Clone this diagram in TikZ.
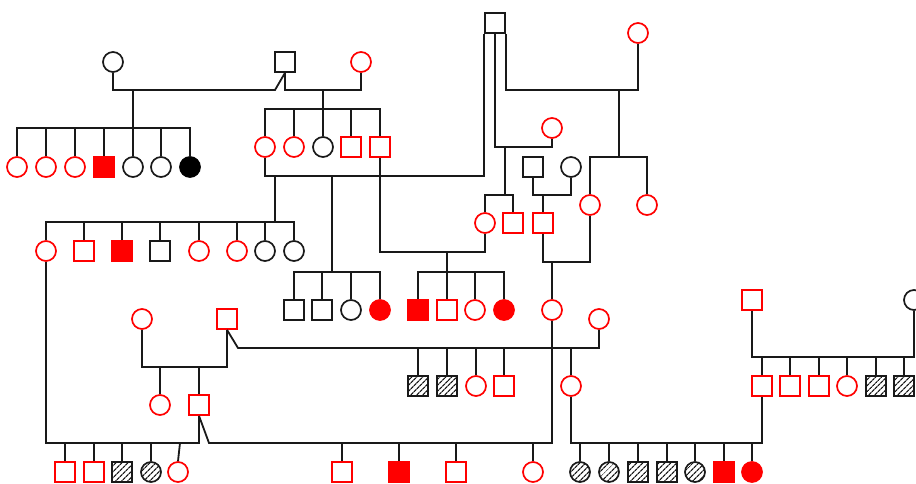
\documentclass[tikz,border=0pt]{standalone}
\usetikzlibrary{patterns.meta}
\begin{document}
\begin{tikzpicture}[x=1pt,y=-1pt,
    rel/.style={draw=black!90,line width=1.8pt},
    male/.style={rectangle},
    female/.style={circle},
    unaff/.style={draw=red},
    aff/.style={draw=red,fill=red},
    plain/.style={draw=black!90},
    blackaff/.style={draw=black,fill=black},
    carrier/.style={draw=black!90,pattern={Lines[angle=45,distance=4pt,line width=1.2pt]},pattern color=black!90}]
\tikzset{every node/.style={minimum size=20pt,inner sep=0pt,line width=1.7pt}}
\useasboundingbox (0,0) rectangle (916,484);

% first generation
\node[female,plain] (gmA) at (113,62) {};
\node[male,plain] (gpA) at (285,62) {};
\node[female,unaff] (gmB) at (361,62) {};
\node[male,plain] (gp) at (495,23) {};
\node[female,unaff] (gmC) at (638,33) {};
\node[female,unaff] (gmD) at (552,128) {};
\node[male,plain] (pE) at (533,167) {};
\node[female,plain] (mE) at (571,167) {};

% second generation
\node[female,unaff] (a1) at (17,167) {};
\node[female,unaff] (a2) at (46,167) {};
\node[female,unaff] (a3) at (75,167) {};
\node[male,aff] (a4) at (104,167) {};
\node[female,plain] (a5) at (133,167) {};
\node[female,plain] (a6) at (161,167) {};
\node[female,blackaff] (a7) at (190,167) {};

\node[female,unaff] (b1) at (265,147) {};
\node[female,unaff] (b2) at (294,147) {};
\node[female,plain] (b3) at (323,147) {};
\node[male,unaff] (b4) at (351,147) {};
\node[male,unaff] (b5) at (380,147) {};

\node[female,unaff] (e1) at (485,223) {};
\node[male,unaff] (e2) at (513,223) {};
\node[male,unaff] (e3) at (543,223) {};
\node[female,unaff] (f1) at (590,205) {};
\node[female,unaff] (f2) at (647,205) {};

% third generation
\node[female,unaff] (c1) at (46,251) {};
\node[male,unaff] (c2) at (84,251) {};
\node[male,aff] (c3) at (122,251) {};
\node[male,plain] (c4) at (160,251) {};
\node[female,unaff] (c5) at (199,251) {};
\node[female,unaff] (c6) at (237,251) {};
\node[female,plain] (c7) at (265,251) {};
\node[female,plain] (c8) at (294,251) {};

\node[male,plain] (d1) at (294,310) {};
\node[male,plain] (d2) at (322,310) {};
\node[female,plain] (d3) at (351,310) {};
\node[female,aff] (d4) at (380,310) {};

\node[male,aff] (h1) at (418,310) {};
\node[male,unaff] (h2) at (447,310) {};
\node[female,unaff] (h3) at (475,310) {};
\node[female,aff] (h4) at (504,310) {};

\node[female,unaff] (g1) at (552,310) {};

\node[female,unaff] (p1) at (142,319) {};
\node[male,unaff] (p2) at (227,319) {};
\node[female,unaff] (r1) at (599,319) {};
\node[male,unaff] (x1) at (752,300) {};
\node[female,plain] (x2) at (914,300) {};

% fourth generation
\node[female,unaff] (q1) at (160,405) {};
\node[male,unaff] (q2) at (199,405) {};

\node[male,carrier] (s1) at (418,386) {};
\node[male,carrier] (s2) at (447,386) {};
\node[female,unaff] (s3) at (476,386) {};
\node[male,unaff] (s4) at (504,386) {};
\node[female,unaff] (s5) at (571,386) {};

\node[male,unaff] (v1) at (762,386) {};
\node[male,unaff] (v2) at (790,386) {};
\node[male,unaff] (v3) at (819,386) {};
\node[female,unaff] (v4) at (847,386) {};
\node[male,carrier] (v5) at (876,386) {};
\node[male,carrier] (v6) at (904,386) {};

% fifth generation
\node[male,unaff] (t1) at (65,472) {};
\node[male,unaff] (t2) at (94,472) {};
\node[male,carrier] (t3) at (122,472) {};
\node[female,carrier] (t4) at (151,472) {};
\node[female,unaff] (t5) at (178,472) {};

\node[male,unaff] (u1) at (342,472) {};
\node[male,aff] (u2) at (399,472) {};
\node[male,unaff] (u3) at (456,472) {};
\node[female,unaff] (u4) at (533,472) {};

\node[female,carrier] (w1) at (580,472) {};
\node[female,carrier] (w2) at (609,472) {};
\node[male,carrier] (w3) at (638,472) {};
\node[male,carrier] (w4) at (667,472) {};
\node[female,carrier] (w5) at (695,472) {};
\node[male,aff] (w6) at (724,472) {};
\node[female,aff] (w7) at (752,472) {};

% marriage and sibling lines
\coordinate (kA) at (275,90);
\coordinate (jA) at (133,90);
\coordinate (sA) at (133,128);
\draw[rel] (gmA.south) |- (kA) -- (gpA.south);
\draw[rel] (jA) -- (a5.north);
\draw[rel] (a1.north) |- (sA) -| (a7.north);
\foreach \c in {a2,a3,a4,a6} \draw[rel] (\c.north) -- (\c.north |- sA);

\coordinate (jB) at (323,90);
\coordinate (sB) at (323,109);
\draw[rel] (gpA.south) -- (gpA.south |- kA) -| (gmB.south);
\draw[rel] (jB) -- (b3.north);
\draw[rel] (b1.north) |- (sB) -| (b5.north);
\foreach \c in {b2,b4} \draw[rel] (\c.north) -- (\c.north |- sB);

\coordinate (m1) at (275,176);
\coordinate (m1b) at (332,176);
\coordinate (sC) at (275,222);
\coordinate (sD) at (332,272);
\draw[rel] (b1.south) |- (m1) -| (gp.south west);
\draw[rel] (m1) -- (sC);
\draw[rel] (c1.north) |- (sC) -| (c8.north);
\foreach \c in {c2,c3,c4,c5,c6,c7} \draw[rel] (\c.north) -- (\c.north |- sC);
\draw[rel] (m1b) -- (sD);
\draw[rel] (d1.north) |- (sD) -| (d4.north);
\foreach \c in {d2,d3} \draw[rel] (\c.north) -- (\c.north |- sD);

\coordinate (m2) at (505,147);
\coordinate (sE) at (505,195);
\draw[rel] (gp.south) |- (m2) -| (gmD.south);
\draw[rel] (m2) -- (sE);
\draw[rel] (e1.north) |- (sE) -| (e2.north);

\coordinate (m3) at (619,90);
\coordinate (sF) at (619,157);
\draw[rel] (gp.south east) |- (m3) -| (gmC.south);
\draw[rel] (m3) -- (sF);
\draw[rel] (f1.north) |- (sF) -| (f2.north);

\coordinate (jE) at (543,195);
\draw[rel] (pE.south) |- (jE) -| (mE.south);
\draw[rel] (jE) -- (e3.north);

\coordinate (jG) at (552,262);
\draw[rel] (e3.south) |- (jG) -| (f1.south);
\draw[rel] (jG) -- (g1.north);

\coordinate (jH) at (447,252);
\coordinate (sH) at (447,272);
\draw[rel] (b5.south) |- (jH) -| (e1.south);
\draw[rel] (jH) -- (h2.north);
\draw[rel] (h1.north) |- (sH) -| (h4.north);
\draw[rel] (h3.north) -- (h3.north |- sH);

\coordinate (jP) at (199,367);
\draw[rel] (p1.south) |- (jP) -| (p2.south);
\draw[rel] (jP) -- (q2.north);
\draw[rel] (q1.north) -- (q1.north |- jP);

\coordinate (kR) at (238,348);
\draw[rel] (p2.south) -- (kR) -| (r1.south);
\foreach \c in {s1,s2,s3,s4,s5} \draw[rel] (\c.north) -- (\c.north |- kR);

\coordinate (kT) at (199,443);
\draw[rel] (c1.south) |- (kT) -- (q2.south);
\foreach \c in {t1,t2,t3,t4} \draw[rel] (\c.north) -- (\c.north |- kT);
\draw[rel] (t5.north) -- ([xshift=2pt]t5.north |- kT);

\coordinate (kU) at (209,443);
\draw[rel] (q2.south) -- (kU) -| (g1.south);
\foreach \c in {u1,u2,u3,u4} \draw[rel] (\c.north) -- (\c.north |- kU);

\coordinate (kW) at (762,443);
\draw[rel] (s5.south) |- (kW) -- (v1.south);
\foreach \c in {w1,w2,w3,w4,w5,w6,w7} \draw[rel] (\c.north) -- (\c.north |- kW);

\coordinate (kX) at (752,357);
\draw[rel] (x1.south) |- (kX) -| (x2.south);
\foreach \c in {v1,v2,v3,v4,v5,v6} \draw[rel] (\c.north) -- (\c.north |- kX);
\end{tikzpicture}
\end{document}
